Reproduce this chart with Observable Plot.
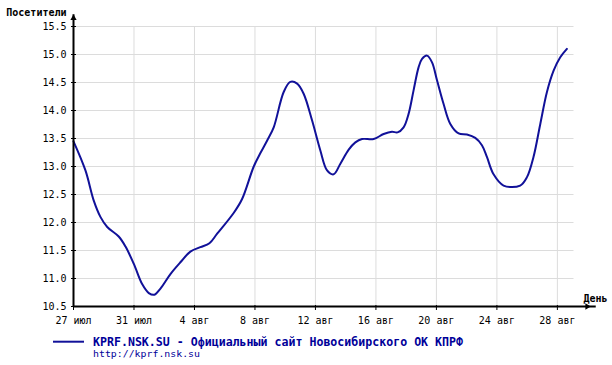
<!DOCTYPE html>
<html>
<head>
<meta charset="utf-8">
<script src="https://cdn.jsdelivr.net/npm/d3@7"></script>
<script src="https://cdn.jsdelivr.net/npm/@observablehq/plot@0.6"></script>
<style>
  body { margin: 0; background: #fff; }
  #chart svg { display: block; }
  #legend { display: block; }
</style>
</head>
<body>
<div id="chart"></div>
<svg id="legend" width="612" height="35">
  <line x1="53" x2="84" y1="11.7" y2="11.7" stroke="#111199" stroke-width="2"></line>
  <text x="93" y="15.8" font-family="DejaVu Sans Mono" font-weight="bold" font-size="11.5" fill="#000099" textLength="370" lengthAdjust="spacingAndGlyphs">KPRF.NSK.SU - Официальный сайт Новосибирского ОК КПРФ</text>
  <text x="93" y="27" font-family="DejaVu Sans Mono" font-size="9" fill="#000099" textLength="107" lengthAdjust="spacingAndGlyphs">http://kprf.nsk.su</text>
</svg>
<script>
// day offset from 27 июл
const days = [0, 0.79, 1.34, 1.78, 2.23, 2.99, 3.44, 3.99, 4.54, 4.98, 5.35, 5.75, 6.41, 7.07, 7.73, 8.39, 8.99, 9.5, 10.59, 11.15, 11.92, 12.36, 12.8, 13.24, 13.9, 14.34, 14.79, 15.22, 15.78, 16.32, 16.77, 17.2, 17.65, 18.2, 18.64, 19.08, 19.85, 20.51, 21.06, 21.43, 21.83, 22.16, 22.49, 22.82, 23.05, 23.38, 23.71, 24.04, 24.47, 24.92, 25.47, 26.02, 26.57, 27.01, 27.34, 27.78, 28.44, 29.54, 29.99, 30.42, 30.87, 31.31, 31.75, 32.19, 32.63];
const visitors = [13.45, 12.93, 12.39, 12.1, 11.92, 11.75, 11.57, 11.26, 10.9, 10.74, 10.71, 10.82, 11.08, 11.29, 11.48, 11.56, 11.63, 11.8, 12.17, 12.42, 13.0, 13.24, 13.46, 13.7, 14.33, 14.51, 14.48, 14.3, 13.82, 13.29, 12.93, 12.86, 13.05, 13.3, 13.43, 13.49, 13.49, 13.58, 13.62, 13.61, 13.7, 13.94, 14.36, 14.77, 14.92, 14.98, 14.86, 14.54, 14.12, 13.76, 13.59, 13.57, 13.51, 13.38, 13.17, 12.86, 12.66, 12.66, 12.81, 13.17, 13.76, 14.33, 14.71, 14.95, 15.1];
const tickDays = [0, 4, 8, 12, 16, 20, 24, 28, 32];
const tickLabels = ["27 июл", "31 июл", "4 авг", "8 авг", "12 авг", "16 авг", "20 авг", "24 авг", "28 авг"];
const yTicks = [10.5, 11, 11.5, 12, 12.5, 13, 13.5, 14, 14.5, 15, 15.5];

const data = days.map((d, i) => ({day: d, v: visitors[i]}));
const font = "DejaVu Sans Mono";

const chart = Plot.plot({
  width: 612,
  height: 330,
  marginLeft: 73,
  marginRight: 40,
  marginTop: 26,
  marginBottom: 24,
  style: {background: "#fff", fontFamily: font, fontSize: "10px", color: "#000"},
  x: {domain: [0, 33]},
  y: {domain: [10.5, 15.5]},
  marks: [
    Plot.ruleY(yTicks.slice(1), {x1: 0, x2: 33.1, stroke: "#dcdcdc", strokeWidth: 1}),
    Plot.ruleX(tickDays.slice(1), {y1: 10.5, y2: 15.5, stroke: "#dcdcdc", strokeWidth: 1}),
    Plot.line(data, {x: "day", y: "v", stroke: "#111199", strokeWidth: 2, curve: "catmull-rom"}),
    Plot.ruleX([0], {y1: 10.5, y2: 15.71, stroke: "#000", strokeWidth: 2}),
    Plot.ruleY([10.5], {x1: 0, x2: 34.57, stroke: "#000", strokeWidth: 2}),
    Plot.dot([0], {x: 0, y: 15.65, symbol: "triangle2", r: 3, fill: "#000", stroke: null}),
    Plot.dot([0], {x: 33.97, y: 10.5, symbol: "triangle2", r: 3, rotate: 90, fill: "#000", stroke: null}),
    Plot.axisY({ticks: yTicks, tickFormat: d3.format(".1f"), tickSize: 5, tickPadding: 5, dx: 3, label: null, fontSize: 10, fontFamily: font, stroke: "#000", fill: "#000"}),
    Plot.axisX({ticks: tickDays, tickFormat: d => tickLabels[tickDays.indexOf(d)], tickSize: 5, tickPadding: 6, dy: -1, label: null, fontSize: 10, fontFamily: font, stroke: "#000", fill: "#000"}),
    Plot.text(["Посетители"], {frameAnchor: "top-left", dx: -7, dy: -11, textAnchor: "end", lineAnchor: "bottom", fontWeight: "bold", fontSize: 10, fontFamily: font, fill: "#000"}),
    Plot.text(["День"], {frameAnchor: "bottom-right", dx: 11, dy: -5, textAnchor: "start", lineAnchor: "bottom", fontWeight: "bold", fontSize: 10, fontFamily: font, fill: "#000"})
  ]
});
document.getElementById("chart").appendChild(chart);
</script>
</body>
</html>
